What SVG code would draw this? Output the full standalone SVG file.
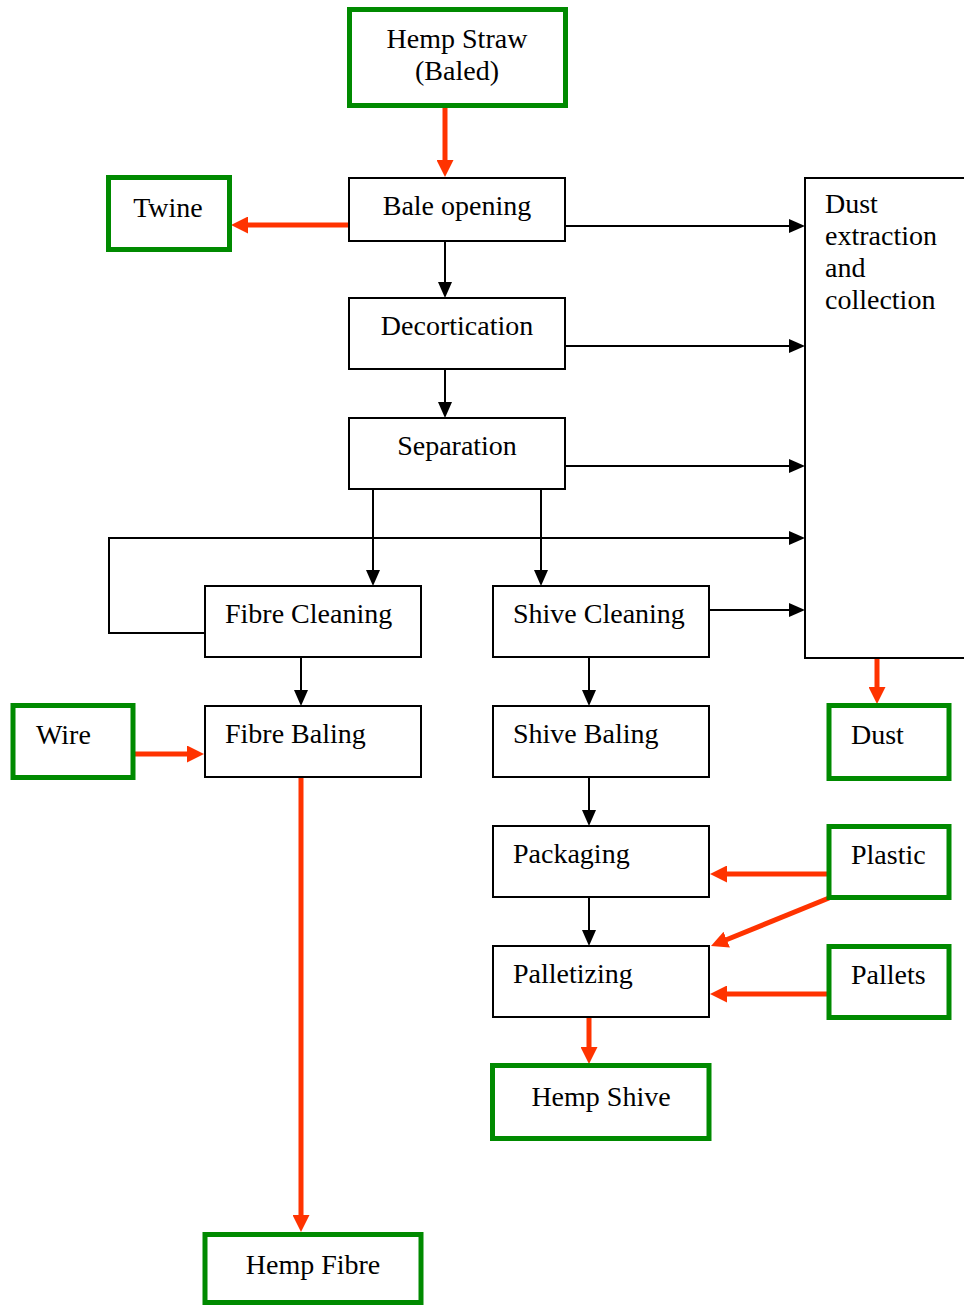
<svg xmlns="http://www.w3.org/2000/svg" width="964" height="1306" viewBox="0 0 964 1306">
  <style>
    .step { fill: #ffffff; stroke: #000000; stroke-width: 2; }
    .io { fill: #ffffff; stroke: #008a00; stroke-width: 5; }
    text { font-family: "Liberation Serif", "Times New Roman", serif; font-size: 28px; fill: #000000; }
    .c { text-anchor: middle; }
    .flow { fill: none; stroke: #000000; stroke-width: 2; marker-end: url(#arrowBlack); }
    .mat { fill: none; stroke: #ff3300; stroke-width: 5; marker-end: url(#arrowRed); }
  </style>
  <defs>
    <marker id="arrowBlack" markerUnits="userSpaceOnUse" viewBox="0 0 16 14" markerWidth="16" markerHeight="14" refX="1" refY="7" orient="auto">
      <path d="M0,0 L16,7 L0,14 Z" fill="#000000"/>
    </marker>
    <marker id="arrowRed" markerUnits="userSpaceOnUse" viewBox="0 0 17 17" markerWidth="17" markerHeight="17" refX="1" refY="8.5" orient="auto">
      <path d="M0,0 L17,8.5 L0,17 Z" fill="#ff3300"/>
    </marker>
  </defs>

  <rect width="964" height="1306" fill="#ffffff"/>

  <!-- connectors -->
  <g id="connectors">
    <path class="flow" d="M445,241 V283"/>
    <path class="flow" d="M445,369 V403"/>
    <path class="flow" d="M565,226 H790"/>
    <path class="flow" d="M565,346 H790"/>
    <path class="flow" d="M565,466 H790"/>
    <path class="flow" d="M205,633 H109 V538 H790"/>
    <path class="flow" d="M373,489 V571"/>
    <path class="flow" d="M541,489 V571"/>
    <path class="flow" d="M710,610 H790"/>
    <path class="flow" d="M301,657 V691"/>
    <path class="flow" d="M589,657 V691"/>
    <path class="flow" d="M589,777 V811"/>
    <path class="flow" d="M589,897 V931"/>

    <path class="mat" d="M445,108 V161"/>
    <path class="mat" d="M348,225 H247"/>
    <path class="mat" d="M877,658 V688"/>
    <path class="mat" d="M135,754 H188"/>
    <path class="mat" d="M301,778 V1216"/>
    <path class="mat" d="M829,874 H726"/>
    <path class="mat" d="M829,898 L725.8,940"/>
    <path class="mat" d="M829,994 H726"/>
    <path class="mat" d="M589,1018 V1048"/>
  </g>

  <!-- nodes -->
  <g id="hemp-straw">
    <rect class="io" x="349.5" y="9.5" width="216" height="96"/>
    <text class="c" x="457" y="48">Hemp Straw</text>
    <text class="c" x="457" y="80">(Baled)</text>
  </g>
  <g id="twine">
    <rect class="io" x="108.5" y="177.5" width="121" height="72"/>
    <text class="c" x="168" y="217">Twine</text>
  </g>
  <g id="bale-opening">
    <rect class="step" x="349" y="178" width="216" height="63"/>
    <text class="c" x="457" y="215">Bale opening</text>
  </g>
  <g id="decortication">
    <rect class="step" x="349" y="298" width="216" height="71"/>
    <text class="c" x="457" y="335">Decortication</text>
  </g>
  <g id="separation">
    <rect class="step" x="349" y="418" width="216" height="71"/>
    <text class="c" x="457" y="455">Separation</text>
  </g>
  <g id="dust-extraction">
    <rect class="step" x="805" y="178" width="175" height="480"/>
    <text x="825" y="213">Dust</text>
    <text x="825" y="245">extraction</text>
    <text x="825" y="277">and</text>
    <text x="825" y="309">collection</text>
  </g>
  <g id="fibre-cleaning">
    <rect class="step" x="205" y="586" width="216" height="71"/>
    <text x="225" y="623">Fibre Cleaning</text>
  </g>
  <g id="shive-cleaning">
    <rect class="step" x="493" y="586" width="216" height="71"/>
    <text x="513" y="623">Shive Cleaning</text>
  </g>
  <g id="wire">
    <rect class="io" x="13" y="705.5" width="120" height="72"/>
    <text x="36" y="744">Wire</text>
  </g>
  <g id="fibre-baling">
    <rect class="step" x="205" y="706" width="216" height="71"/>
    <text x="225" y="743">Fibre Baling</text>
  </g>
  <g id="shive-baling">
    <rect class="step" x="493" y="706" width="216" height="71"/>
    <text x="513" y="743">Shive Baling</text>
  </g>
  <g id="dust">
    <rect class="io" x="829" y="705.5" width="120" height="73"/>
    <text x="851" y="744">Dust</text>
  </g>
  <g id="packaging">
    <rect class="step" x="493" y="826" width="216" height="71"/>
    <text x="513" y="863">Packaging</text>
  </g>
  <g id="plastic">
    <rect class="io" x="829" y="826.5" width="120" height="71"/>
    <text x="851" y="864">Plastic</text>
  </g>
  <g id="palletizing">
    <rect class="step" x="493" y="946" width="216" height="71"/>
    <text x="513" y="983">Palletizing</text>
  </g>
  <g id="pallets">
    <rect class="io" x="829" y="946.5" width="120" height="71"/>
    <text x="851" y="984">Pallets</text>
  </g>
  <g id="hemp-shive">
    <rect class="io" x="492.5" y="1065.5" width="216.5" height="73"/>
    <text class="c" x="601" y="1106">Hemp Shive</text>
  </g>
  <g id="hemp-fibre">
    <rect class="io" x="205" y="1234.5" width="216" height="68"/>
    <text class="c" x="313" y="1274">Hemp Fibre</text>
  </g>
</svg>
